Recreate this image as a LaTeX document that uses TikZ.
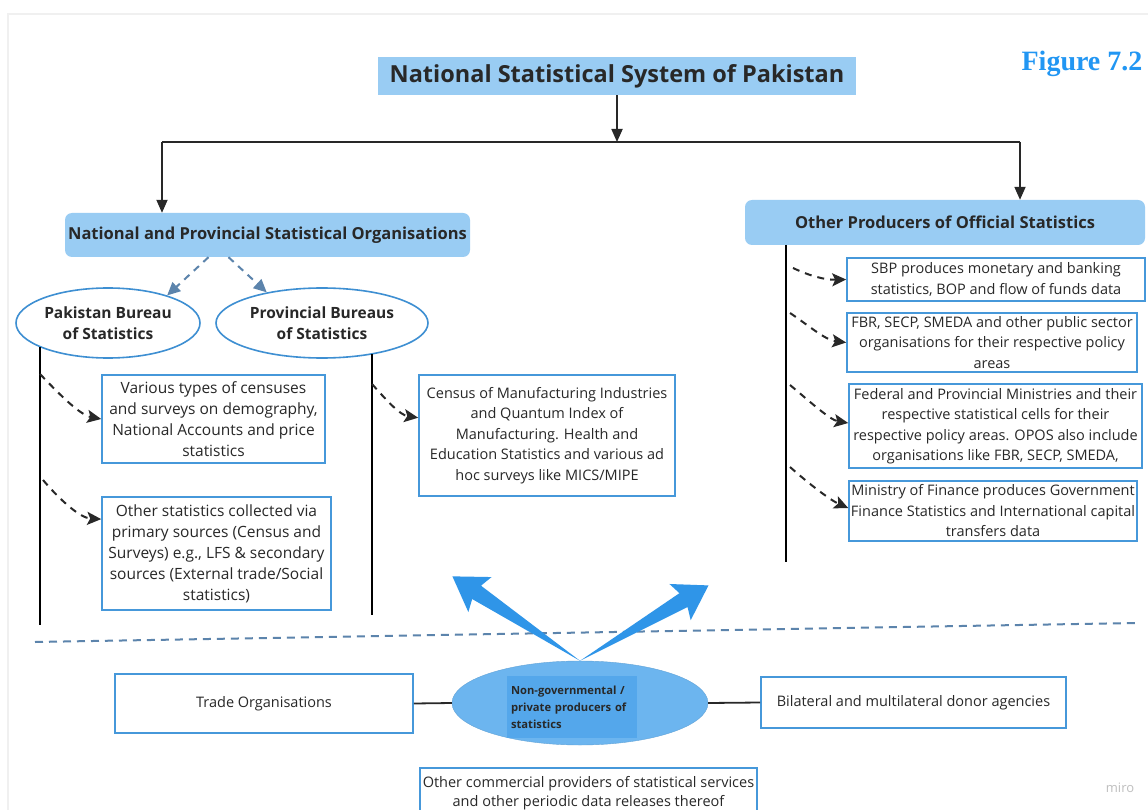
\documentclass[tikz,border=0pt]{standalone}
\usepackage{fontspec}
\setmainfont{Open Sans}
\newfontfamily\figfont{Liberation Serif}
\usetikzlibrary{arrows.meta,shapes.geometric,calc}

\definecolor{headblue}{RGB}{153,204,243}
\definecolor{boxblue}{RGB}{70,152,218}
\definecolor{ellblue}{RGB}{62,143,210}
\definecolor{txt}{RGB}{40,40,40}
\definecolor{steel}{RGB}{92,132,172}
\definecolor{ngofill}{RGB}{108,181,239}
\definecolor{ngoinner}{RGB}{84,167,235}
\definecolor{bigarrow}{RGB}{47,149,232}
\definecolor{figblue}{RGB}{33,150,243}

\begin{document}
\begin{tikzpicture}[x=1pt,y=-1pt,
  head/.style={fill=headblue, text=txt, inner sep=0pt, align=center,
    font=\bfseries\fontsize{23.5}{26}\selectfont},
  group/.style={fill=headblue, text=txt, rounded corners=7pt, inner sep=0pt,
    align=center, font=\bfseries\fontsize{16.5}{19}\selectfont},
  bureau/.style={ellipse, draw=ellblue, line width=1.6pt, fill=white, text=txt,
    inner sep=0pt, align=center, font=\bfseries\fontsize{15.5}{21}\selectfont},
  infobox/.style={draw=boxblue, line width=1.6pt, fill=white, text=txt,
    inner sep=0pt, align=center, font=\fontsize{15.5}{21}\selectfont},
  sidebox/.style={infobox, font=\fontsize{14.5}{20.5}\selectfont},
  lowbox/.style={infobox, font=\fontsize{14.5}{20}\selectfont},
  link/.style={draw=txt, line width=1.8pt},
  feed/.style={link, -{Triangle[length=13pt,width=11pt]}},
  branch/.style={draw=txt, line width=2pt, dash pattern=on 7pt off 6pt,
    -{Stealth[length=14pt,width=13pt,inset=3pt]}},
  split/.style={draw=steel, line width=2pt, dash pattern=on 7pt off 6pt,
    -{Triangle[length=13pt,width=12pt]}},
  spine/.style={draw=black, line width=1.4pt},
]
\useasboundingbox (0,0) rectangle (1148,810);
\fill[white] (0,0) rectangle (1148,810);
\draw[black!6, line width=1.5pt] (8,810) -- (8,14) -- (1148,14);

% --- top level ---------------------------------------------------------
\node[head, minimum width=478pt, minimum height=38pt] (title) at (617,76)
  {National Statistical System of Pakistan};
\node[text=figblue, font=\figfont\bfseries\fontsize{28}{32}\selectfont,
  inner sep=0pt] (fig) at (1082,64) {Figure 7.2};

\node[group, minimum width=405pt, minimum height=44pt] (nps) at (267.5,235)
  {National and Provincial Statistical Organisations};
\node[group, minimum width=400pt, minimum height=45pt] (opos) at (945,222.5)
  {Other Producers of Official Statistics};

\coordinate (barL) at (162,142);
\coordinate (barR) at (1020,142);
\draw[link] (barL) -- (barR);
\draw[feed] (title.south) -- (title.south |- barL);
\draw[feed] (barL) -- (barL |- nps.north);
\draw[feed] (barR) -- (barR |- opos.north);

% --- national and provincial organisations ------------------------------
\node[bureau, minimum width=184pt, minimum height=70pt] (pbs) at (108,323)
  {Pakistan Bureau\\of Statistics};
\node[bureau, minimum width=212pt, minimum height=70pt] (prov) at (322,323)
  {Provincial Bureaus\\of Statistics};
\draw[split] ([xshift=-59pt]nps.south) -- (pbs.25);
\draw[split] ([xshift=-39pt]nps.south) -- (prov.151);

\node[infobox, minimum width=223pt, minimum height=88pt] (pa) at (213.5,419)
  {Various types of censuses\\and surveys on demography,\\National Accounts and price\\statistics};
\node[infobox, minimum width=229pt, minimum height=113pt] (pb) at (216.5,553.5)
  {Other statistics collected via\\primary sources (Census and\\Surveys) e.g., LFS \& secondary\\sources (External trade/Social\\statistics)};
\node[sidebox, minimum width=256pt, minimum height=121pt] (pc) at (547,435.5)
  {Census of Manufacturing Industries\\and Quantum Index of\\Manufacturing. Health and\\Education Statistics and various ad\\hoc surveys like MICS/MIPE};

\coordinate (pbsTop) at (40,347);
\coordinate (pbsEnd) at (40,625);
\coordinate (provTop) at (372,354);
\coordinate (provEnd) at (372,615);
\draw[spine] (pbsTop) -- (pbsEnd);
\draw[spine] (provTop) -- (provEnd);

\coordinate (pa0) at (40,374);
\coordinate (pb0) at (43,480);
\coordinate (pc0) at (372,384);
\draw[branch] (pa0) .. controls (60,395) and (80,415) .. (pa.west);
\draw[branch] (pb0) .. controls (60,500) and (80,518) .. ($(pb.north west)!0.2!(pb.south west)$);
\draw[branch] (pc0) .. controls (388,402) and (400,415) .. ($(pc.north west)!0.355!(pc.south west)$);

% --- other producers of official statistics ----------------------------
\node[sidebox, minimum width=298pt, minimum height=43pt] (r1) at (996,279.5)
  {SBP produces monetary and banking\\statistics, BOP and flow of funds data};
\node[sidebox, minimum width=290pt, minimum height=59pt] (r2) at (992,342.5)
  {FBR, SECP, SMEDA and other public sector\\organisations for their respective policy\\areas};
\node[sidebox, minimum width=293pt, minimum height=84pt] (r3) at (995.5,426)
  {Federal and Provincial Ministries and their\\respective statistical cells for their\\respective policy areas. OPOS also include\\organisations like FBR, SECP, SMEDA,};
\node[sidebox, minimum width=288pt, minimum height=60pt] (r4) at (993,511)
  {Ministry of Finance produces Government\\Finance Statistics and International capital\\transfers data};

\coordinate (oposTop) at (786,245);
\coordinate (oposEnd) at (786,562);
\draw[spine] (oposTop) -- (oposEnd);

\coordinate (r10) at (793,268);
\coordinate (r20) at (790,313);
\coordinate (r30) at (790,385);
\coordinate (r40) at (790,467);
\draw[branch] (r10) .. controls (810,276) and (825,280) .. (r1.west);
\draw[branch] (r20) .. controls (808,325) and (825,340) .. (r2.west);
\draw[branch] (r30) .. controls (808,400) and (830,420) .. ([yshift=3pt]r3.west);
\draw[branch] (r40) .. controls (808,483) and (830,500) .. ([yshift=3pt]r4.west);

% --- separator ----------------------------------------------------------
\coordinate (sepL) at (35,642);
\coordinate (sepR) at (1135,623);
\draw[draw=steel, line width=2pt, dash pattern=on 8pt off 6pt] (sepL) -- (sepR);

% --- non-governmental producers ----------------------------------------
\node[ellipse, fill=ngofill, draw=ngofill!90!black, line width=0.4pt,
  minimum width=256pt, minimum height=84pt, inner sep=0pt] (ngo) at (580,703) {};
\node[fill=ngoinner, minimum width=130pt, minimum height=62pt, inner sep=0pt,
  text=txt, align=left, text width=122pt,
  font=\bfseries\fontsize{11.2}{17}\selectfont] (ngotext) at (572,707)
  {Non-governmental /\\private producers of\\statistics};

% broad arrows rising from the ellipse
\begin{scope}[shift={(ngo.north)}, rotate=146.5]
  \fill[bigarrow] (0,0) -- (124,8) -- (120,21) -- (153,0) -- (120,-21) -- (124,-8) -- cycle;
\end{scope}
\begin{scope}[shift={(ngo.north)}, rotate=30.4]
  \fill[bigarrow] (0,0) -- (120,8) -- (116,21) -- (149,0) -- (116,-21) -- (120,-8) -- cycle;
\end{scope}

\node[lowbox, minimum width=298pt, minimum height=59pt] (trade) at (264,703.5)
  {Trade Organisations};
\node[lowbox, minimum width=305pt, minimum height=51pt] (donor) at (913.5,702.5)
  {Bilateral and multilateral donor agencies};
\node[lowbox, minimum width=337pt, minimum height=50pt,
  font=\fontsize{14.5}{19.5}\selectfont] (comm) at (588.5,793)
  {Other commercial providers of statistical services\\and other periodic data releases thereof};
\draw[link] (trade.east) -- (ngo.west);
\draw[link] (ngo.east) -- (donor.west);

\node[text=black!25, font=\fontsize{13}{15}\selectfont, inner sep=0pt] (miro) at (1120,788) {miro};
\end{tikzpicture}
\end{document}
